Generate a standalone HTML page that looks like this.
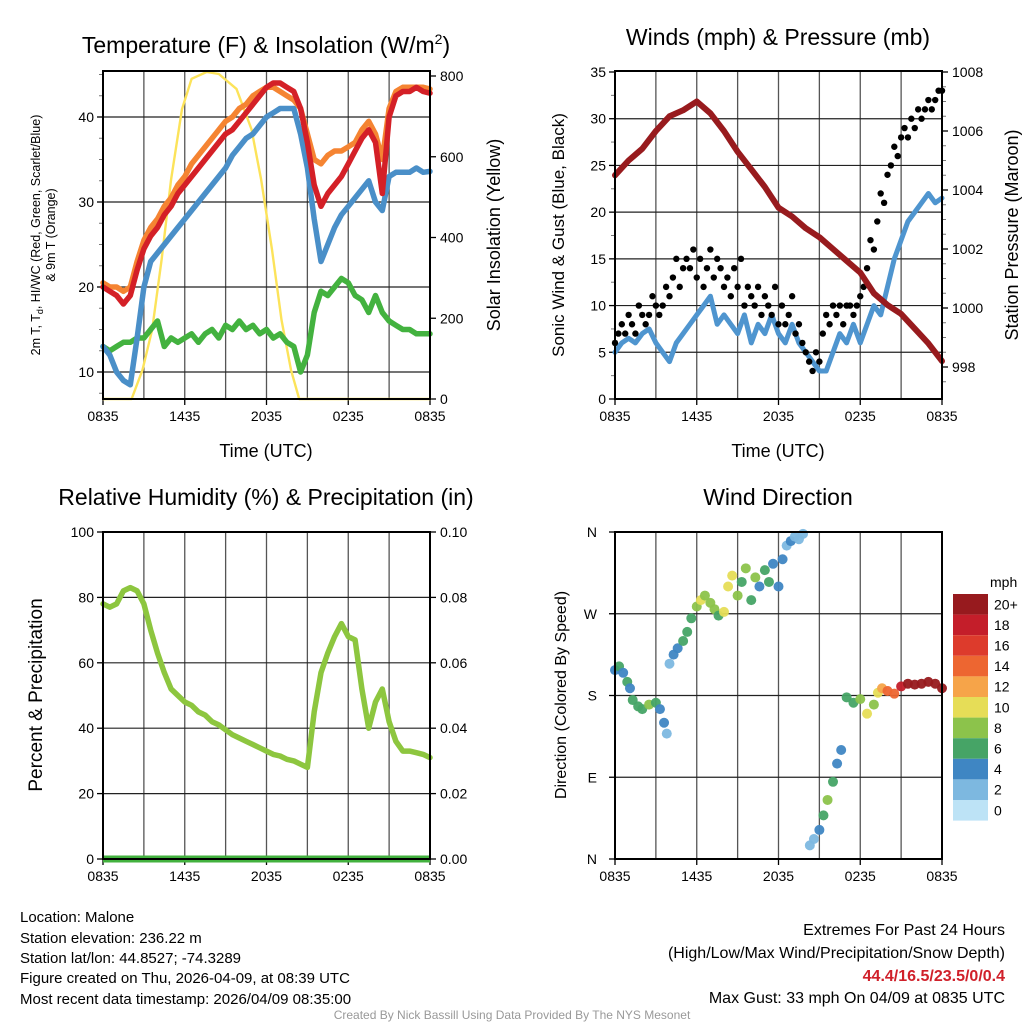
<!DOCTYPE html>
<html><head><meta charset="utf-8"><style>
html,body{margin:0;padding:0;background:#fff;}
svg text{font-family:"Liberation Sans",Arial,sans-serif;}
</style></head><body>
<svg id="fig" width="1024" height="1024" viewBox="0 0 1024 1024" xmlns="http://www.w3.org/2000/svg">
<rect width="1024" height="1024" fill="#fff"/>
<g id="g"></g>
<g font-size="15" fill="#000">
<text x="20" y="922">Location: Malone</text>
<text x="20" y="943">Station elevation: 236.22 m</text>
<text x="20" y="963">Station lat/lon: 44.8527; -74.3289</text>
<text x="20" y="983">Figure created on Thu, 2026-04-09, at 08:39 UTC</text>
<text x="20" y="1004">Most recent data timestamp: 2026/04/09 08:35:00</text>
</g>
<g font-size="16" text-anchor="end">
<text x="1005" y="935">Extremes For Past 24 Hours</text>
<text x="1005" y="958">(High/Low/Max Wind/Precipitation/Snow Depth)</text>
<text x="1005" y="981" fill="#d0202a" font-weight="bold">44.4/16.5/23.5/0/0.4</text>
<text x="1005" y="1003">Max Gust: 33 mph On 04/09 at 0835 UTC</text>
</g>
<text x="512" y="1019" font-size="12" fill="#999" text-anchor="middle">Created By Nick Bassill Using Data Provided By The NYS Mesonet</text>
</svg>
<script>
// ---- data (half-hourly from 0835 UTC, t = 0..24 h) ----
const timeTicks = ["0835","1435","2035","0235","0835"];
const tempRed = [20,19.5,19,18,19,22,24.5,26,27,28.5,29.5,31,32,33,34,35,36,37,38,38.5,39.5,40.5,41.5,42.5,43.5,44,44,43.5,43,41,37,32,29.5,31,32,33,34.5,36,37.5,38.5,37,31,40,42.5,43,43,43.5,43,42.8];
const tempOrange = [20.5,20,20,19.5,20,23,25.5,27,28,29.5,30.5,32,33,34.5,35.5,36.5,37.5,38.5,39.5,40,41,41.5,42.5,43,43.5,43.5,43,42.5,42,41,38,35,34.5,35.5,36,36,36.5,37,38.5,39.5,38,35,41,43,43.5,43.5,43.5,43.5,43.3];
const tempBlue = [13,12,10,9,8.5,14,20,23,24,25,26,27,28,29,30,31,32,33,34,35.5,36.5,37.5,38,39,40,40.5,41,41,41,38,34,28,23,25,27,28.5,29.5,30.5,31.5,32.5,30,29,33,33.5,33.5,33.5,34,33.5,33.6];
const tempGreen = [13,12.5,13,13.5,13.5,14,14,15,16,13,14,13.5,14,14.5,13.5,14.5,15,14,15.5,15,16,15,15.5,14.5,15,14,14.5,13.5,13,10,12,17,19.5,19,20,21,20.5,19,18.5,17,19,17,16,15.5,15,15,14.5,14.5,14.5];
const solarT = [0,1.5,2.1,2.9,3.6,4.3,5,5.8,6.5,7.6,8.5,9.8,10.9,11.6,12.4,13.1,13.8,14.4,24];
const solarV = [0,0,0,72,171,345,544,718,793,810,805,768,668,544,370,196,72,0,0];
const windSpeed = [5,6,6.5,6,7,7.5,6,5,4,6,7,8,9,10,11,8,9,8,7,9,6,8,7,9,7,6,8,6,5,4,3,3,5,7,6,8,6,8,10,9,12,15,17,19,20,21,22,21,21.5];
const gust = [6,7,8,7,9,8,7,10,9, 8,9,11,10,9,10,12,11, 13,15,12,14, 15,14,16,13,15,12,14,16,13,15,14,12, 13,11,14,12,15,10,12,11, 10,12,9,11,10,9,12,8, 10,8,9,11, 7,8,6,5, 4,3,5,4, 7,9,8,10,9,10,8,10, 10,9,10,11, 12,14,17,16, 19,22,21,24, 25,27,26,28,29,28,30,29,31,30,31,32,31,32,33,33];
const pressure = [1004.5,1005,1005.4,1006,1006.5,1006.7,1007,1006.6,1006,1005.3,1004.7,1004.1,1003.4,1003.1,1002.7,1002.4,1002,1001.6,1001.2,1000.5,1000.1,999.8,999.3,998.8,998.2];
const rh = [78,77,78,82,83,82,78,70,63,57,52,50,48,47,45,44,42,41,39.5,38,37,36,35,34,33,32,31.5,30.5,30,29,28,45,57,63,68,72,68,67,52,40,48,52,42,36,33,33,32.5,32,31];
const dirTime = [0,0.3,0.6,0.9,1.1, 1.3,1.7,2,2.5,3,3.3,3.6,3.8, 4,4.3,4.6,5,5.3, 5.6,6,6.3,6.6,7,7.3,7.6,8, 8.3,8.6,9,9.3,9.6,10,10.3,10.6,11,11.3,11.6,12, 12.3,12.6,12.9,13.2,13.5,13.8, 14.3,14.6,15,15.3,15.6,16,16.3,16.6, 17,17.5,18,18.5,19,19.3, 19.6,20,20.5,21,21.5,22,22.5,23,23.5,24];
const dirDeg = [208,212,205,195,188, 175,168,165,170,172,165,150,138, 215,225,232,240,250, 265,278,285,290,282,275,268,272, 300,312,290,305,320,285,310,300,318,305,325,300, 330,345,350,355,352,358, 15,22,32,48,65,85,105,120, 178,172,176,160,170,183, 188,185,182,190,193,192,193,195,193,188];
const dirSpeed = [5,6,5,6,4, 6,7,7,8,7,5,4,3, 3,4,5,6,7, 7,8,11,9,8,9,7,10, 11,10,8,7,9,6,8,5,7,6,4,5, 4,3,4,3,2,2, 2,3,5,6,8,7,5,4, 6,7,9,10,8,11, 13,14,15,18,21,22,23,22,21,21];
const cbLabels = ["20+","18","16","14","12","10","8","6","4","2","0"];
const cbColors = ["#971a1e","#c41e2a","#dd3b2c","#ed6631","#f6a449","#e6dd57","#8cc34b","#46a466","#3f86c3","#7db8e0","#bde3f6"];

const NS="http://www.w3.org/2000/svg";
const root=document.getElementById('g');
function mk(tag,attrs,parent){const e=document.createElementNS(NS,tag);for(const k in attrs)e.setAttribute(k,attrs[k]);(parent||root).appendChild(e);return e;}
function txt(s,attrs,parent){const e=mk('text',attrs,parent);e.textContent=s;return e;}
function lin(d0,d1,r0,r1){return v=>r0+(v-d0)/(d1-d0)*(r1-r0);}
function half(i){return i/2;}

function panel(name,x0,y0,x1,y1){
  const p=mk('g',{});
  
  
  const X=lin(0,24,x0,x1);
  for(let h=3;h<24;h+=3){const l=mk('line',{x1:X(h),x2:X(h),y1:y0,y2:y1,stroke:'#555','stroke-width':1.3},p);}
  timeTicks.forEach((s,i)=>{const h=i*6;mk('line',{x1:X(h),x2:X(h),y1:y1,y2:y1+6,stroke:'#000','stroke-width':1.3},p);const t=txt(s,{x:X(h),y:y1+22,'font-size':14,'text-anchor':'middle'},p);});
  return {p,X};
}
function hgrid(p,x0,x1,y){mk('line',{x1:x0,x2:x1,y1:y,y2:y,stroke:'#222','stroke-width':1.2},p);}
function frame(p,x0,y0,x1,y1){const r=mk('rect',{x:x0,y:y0,width:x1-x0,height:y1-y0,fill:'none',stroke:'#000','stroke-width':2},p);}
function pathFrom(xs,ys){return xs.map((x,i)=>(i?'L':'M')+x.toFixed(1)+','+ys[i].toFixed(1)).join('');}
function line(p,name,vals,X,Y,color,w,tarr){
  const xs=vals.map((v,i)=>X(tarr?tarr[i]:half(i)));const ys=vals.map(v=>Y(v));
  const e=mk('path',{d:pathFrom(xs,ys),fill:'none',stroke:color,'stroke-width':w,'stroke-linejoin':'round','stroke-linecap':'round'},p);
  return e;
}
function title(s,x,y){const t=txt(s,{x:x,y:y,'font-size':23,'text-anchor':'middle'});return t;}
function vlabel(s,x,y,size,name){const t=txt(s,{x:x,y:y,'font-size':size,'text-anchor':'middle',transform:`rotate(-90 ${x} ${y})`});return t;}

// ===== Panel 1: temperature =====
(function(){
  const x0=103,y0=71,x1=430,y1=399;
  const {p,X}=panel('temperature-panel',x0,y0,x1,y1);
  const Y=lin(10,40,372,117); const YS=lin(0,800,399,76);
  [10,20,30,40].forEach(v=>{hgrid(p,x0,x1,Y(v));mk('line',{x1:x0-6,x2:x0,y1:Y(v),y2:Y(v),stroke:'#000','stroke-width':1.3},p);const t=txt(String(v),{x:x0-9,y:Y(v)+5,'font-size':14,'text-anchor':'end'},p);});
  [7.5,12.5,15,17.5,22.5,25,27.5,32.5,35,37.5,42.5,45].forEach(v=>mk('line',{x1:x0-4,x2:x0,y1:Y(v),y2:Y(v),stroke:'#777'},p));
  [0,200,400,600,800].forEach(v=>{mk('line',{x1:x1,x2:x1+6,y1:YS(v),y2:YS(v),stroke:'#000','stroke-width':1.3},p);const t=txt(String(v),{x:x1+10,y:YS(v)+5,'font-size':14},p);});
  line(p,'solar-insolation-line',solarV,X,YS,'#fce35a',2.4,solarT);
  line(p,'dewpoint-line',tempGreen,X,Y,'#43b23f',5.5);
  line(p,'wind-chill-line',tempBlue,X,Y,'#4a8fc8',5.5);
  line(p,'temp-9m-line',tempOrange,X,Y,'#f58432',5.5);
  line(p,'temp-2m-line',tempRed,X,Y,'#d42027',5.5);
  frame(p,x0,y0,x1,y1);
  const t=title('',266,53);t.innerHTML='Temperature (F) &amp; Insolation (W/m<tspan font-size="14" dy="-9">2</tspan><tspan dy="9">)</tspan>';
  const tl=txt('',{x:40,y:235,'font-size':12.5,'text-anchor':'middle',transform:'rotate(-90 40 235)'});
  
  tl.innerHTML='2m T, T<tspan font-size="9" dy="3">d</tspan><tspan dy="-3">, HI/WC (Red, Green, Scarlet/Blue)</tspan>';
  vlabel('& 9m T (Orange)',55,235,12.5,'y-axis-title-2');
  vlabel('Solar Insolation (Yellow)',500,235,18,'right-axis-title');
  const xt=txt('Time (UTC)',{x:266,y:457,'font-size':18,'text-anchor':'middle'});
})();

// ===== Panel 2: winds & pressure =====
(function(){
  const x0=615,y0=71,x1=942,y1=399;
  const {p,X}=panel('wind-pressure-panel',x0,y0,x1,y1);
  const Y=lin(0,35,399,72); const YP=lin(998,1008,367,72);
  [0,5,10,15,20,25,30,35].forEach(v=>{if(v>0&&v<35)hgrid(p,x0,x1,Y(v));mk('line',{x1:x0-6,x2:x0,y1:Y(v),y2:Y(v),stroke:'#000','stroke-width':1.3},p);const t=txt(String(v),{x:x0-9,y:Y(v)+5,'font-size':14,'text-anchor':'end'},p);});
  [2.5,7.5,12.5,17.5,22.5,27.5,32.5].forEach(v=>mk('line',{x1:x0-4,x2:x0,y1:Y(v),y2:Y(v),stroke:'#777'},p));
  [998,1000,1002,1004,1006,1008].forEach(v=>{mk('line',{x1:x1,x2:x1+6,y1:YP(v),y2:YP(v),stroke:'#000','stroke-width':1.3},p);const t=txt(String(v),{x:x1+10,y:YP(v)+5,'font-size':14},p);});
  [997.5,998.5,999,999.5,1000.5,1001,1001.5,1002.5,1003,1003.5,1004.5,1005,1005.5,1006.5,1007,1007.5].forEach(v=>mk('line',{x1:x1,x2:x1+4,y1:YP(v),y2:YP(v),stroke:'#777'},p));
  line(p,'sonic-wind-line',windSpeed,X,Y,'#4f95cf',5);
  gust.forEach((v,i)=>{const c=mk('circle',{cx:X(i/4),cy:Y(v),r:3.2,fill:'#000'},p);});
  line(p,'pressure-line',pressure,X,YP,'#981b1e',6,pressure.map((v,i)=>i));
  frame(p,x0,y0,x1,y1);
  title('Winds (mph) & Pressure (mb)',778,45);
  vlabel('Sonic Wind & Gust (Blue, Black)',564,235,17,'y-axis-title');
  vlabel('Station Pressure (Maroon)',1018,235,18,'right-axis-title');
  const xt=txt('Time (UTC)',{x:778,y:457,'font-size':18,'text-anchor':'middle'});
})();

// ===== Panel 3: RH & precip =====
(function(){
  const x0=103,y0=532,x1=430,y1=859;
  const {p,X}=panel('humidity-panel',x0,y0,x1,y1);
  const Y=lin(0,100,859,532);
  [0,20,40,60,80,100].forEach((v,i)=>{if(v>0&&v<100)hgrid(p,x0,x1,Y(v));mk('line',{x1:x0-6,x2:x0,y1:Y(v),y2:Y(v),stroke:'#000','stroke-width':1.3},p);const t=txt(String(v),{x:x0-9,y:Y(v)+5,'font-size':14,'text-anchor':'end'},p);
    mk('line',{x1:x1,x2:x1+6,y1:Y(v),y2:Y(v),stroke:'#000','stroke-width':1.3},p);const r=txt((i*0.02).toFixed(2),{x:x1+10,y:Y(v)+5,'font-size':14},p);});
  line(p,'relative-humidity-line',rh,X,Y,'#8dc63f',5.5);
  const pr=mk('line',{x1:x0,x2:x1,y1:Y(0),y2:Y(0),stroke:'#43b23f','stroke-width':7},p);
  frame(p,x0,y0,x1,y1);
  title('Relative Humidity (%) & Precipitation (in)',266,505);
  vlabel('Percent & Precipitation',42,695,19,'y-axis-title');
})();

// ===== Panel 4: wind direction =====
(function(){
  const x0=615,y0=532,x1=942,y1=859;
  const {p,X}=panel('wind-direction-panel',x0,y0,x1,y1);
  const Y=lin(0,360,859,532);
  ['N','E','S','W','N'].forEach((s,i)=>{const v=i*90;if(i>0&&i<4)hgrid(p,x0,x1,Y(v));mk('line',{x1:x0-6,x2:x0,y1:Y(v),y2:Y(v),stroke:'#000','stroke-width':1.3},p);const t=txt(s,{x:x0-18,y:Y(v)+5,'font-size':14,'text-anchor':'end'},p);});
  dirDeg.forEach((d,i)=>{const k=Math.min(10,Math.floor(dirSpeed[i]/2));const c=mk('circle',{cx:X(dirTime[i]),cy:Y(d),r:5,fill:cbColors[10-k],'fill-opacity':0.95},p);});
  frame(p,x0,y0,x1,y1);
  title('Wind Direction',778,505);
  vlabel('Direction (Colored By Speed)',566,695,16,'y-axis-title');
  const cb=mk('g',{});
  const bh=20.6;
  cbColors.forEach((c,i)=>{mk('rect',{x:953,y:594+i*bh,width:35,height:bh,fill:c},cb);const t=txt(cbLabels[i],{x:994,y:594+i*bh+bh/2+5,'font-size':14},cb);});
  txt('mph',{x:990,y:587,'font-size':14},cb);
})();
</script>
</body></html>
